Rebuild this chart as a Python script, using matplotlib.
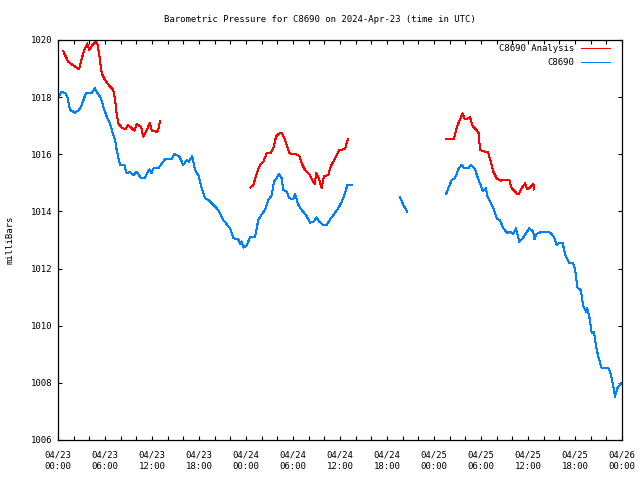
import matplotlib as mpl

mpl.use("Agg")

import matplotlib.dates as mdates
import matplotlib.pyplot as plt
import numpy as np
import pandas as pd

NAN = np.nan
START = pd.Timestamp("2024-04-23 00:00")

# hours since 2024-04-23 00:00 UTC; NaN marks a gap in the record
analysis_hours = [
    0.64, 1.31, 2.17, 2.68, 3.03, 3.45, 3.74, 4.0, 4.47, 4.81, 5.07, 5.27, 5.58, 6.0,
    6.64, 7.06, 7.28, 7.49, 7.70, 8.13, 8.64, 8.9, 9.32, 9.74, 10.05, 10.6, 10.89,
    11.32, 11.74, 11.96, 12.6, 12.8, 13.02,
    NAN,
    24.6, 24.93, 25.37, 25.79, 26.21, 26.64, 27.15, 27.57, 27.83, 28.12, 28.56, 28.98,
    29.53, 30.26, 30.81, 31.11, 31.53, 32.08, 32.59, 32.81, 32.94, 33.23, 33.66, 33.96,
    34.51, 34.81, 35.36, 35.91, 36.64, 36.98,
    NAN,
    49.53, 50.55, 50.81, 51.1, 51.66, 51.96, 52.28, 52.6, 52.94, 53.45, 53.71, 53.87,
    54.51, 54.93, 55.24, 55.57, 56.0, 56.51, 57.61, 57.92, 58.56, 58.76, 59.2, 59.62,
    59.91, 60.26, 60.68, 60.81,
]
analysis_mb = [
    1019.62, 1019.24, 1019.07, 1018.98, 1019.36, 1019.71, 1019.88, 1019.65, 1019.85,
    1019.94, 1019.82, 1019.47, 1018.83, 1018.6, 1018.37, 1018.25, 1017.9, 1017.43,
    1017.08, 1016.94, 1016.87, 1017.03, 1016.94, 1016.83, 1017.06, 1016.96, 1016.62,
    1016.85, 1017.1, 1016.83, 1016.79, 1016.85, 1017.16,
    NAN,
    1014.84, 1014.92, 1015.33, 1015.63, 1015.74, 1016.03, 1016.05, 1016.27, 1016.62,
    1016.71, 1016.76, 1016.5, 1016.03, 1016.01, 1015.94, 1015.68, 1015.45, 1015.31,
    1015.04, 1014.96, 1015.36, 1015.22, 1014.81, 1015.24, 1015.27, 1015.57, 1015.86,
    1016.15, 1016.18, 1016.52,
    NAN,
    1016.55, 1016.55, 1016.85, 1017.08, 1017.43, 1017.22, 1017.25, 1017.29, 1016.99,
    1016.85, 1016.73, 1016.15, 1016.09, 1016.06, 1015.74, 1015.39, 1015.16, 1015.08,
    1015.1, 1014.81, 1014.63, 1014.6, 1014.81, 1014.98, 1014.77, 1014.84, 1014.96,
    1014.77,
]

station_hours = [
    0.13, 0.47, 0.98, 1.21, 1.53, 2.17, 2.68, 3.03, 3.54, 4.30, 4.72, 5.07, 5.49, 5.78,
    6.22, 6.64, 6.93, 7.28, 7.49, 7.91, 8.46, 8.77, 9.19, 9.61, 10.05, 10.6, 11.02,
    11.66, 11.96, 12.17, 12.8, 13.66, 14.51, 14.85, 15.45, 16.0, 16.43, 16.72, 17.14,
    17.49, 17.91, 18.34, 18.77, 19.19, 19.83, 20.46, 21.1, 21.96, 22.38, 23.02, 23.23,
    23.45, 23.66, 24.09, 24.51, 25.15, 25.57, 26.0, 26.43, 26.85, 27.28, 27.57, 27.92,
    28.21, 28.56, 28.76, 29.19, 29.53, 30.04, 30.26, 30.68, 31.11, 31.66, 32.17, 32.59,
    33.03, 33.36, 33.87, 34.30, 34.72, 35.15, 35.78, 36.22, 36.64, 36.93, 37.49,
    NAN,
    43.66, 44.08, 44.59,
    NAN,
    49.53, 49.83, 50.26, 50.68, 51.1, 51.54, 51.83, 52.38, 52.69, 53.23, 53.53, 53.87,
    54.21, 54.64, 54.81, 55.15, 55.57, 56.0, 56.43, 56.85, 57.36, 57.7, 58.13, 58.47,
    58.89, 59.4, 60.17, 60.68, 60.81, 61.11, 61.75, 62.6, 63.03, 63.32, 63.66, 64.09,
    64.43, 64.72, 65.27, 65.7, 66.0, 66.29, 66.73, 67.06, 67.4, 67.57, 67.91, 68.13,
    68.43, 68.68, 68.98, 69.41, 70.26, 70.55, 70.89, 71.1, 71.4, 71.74, 71.91,
]
station_mb = [
    1018.02, 1018.19, 1018.13, 1018.0, 1017.55, 1017.46, 1017.55, 1017.72, 1018.13,
    1018.15, 1018.31, 1018.13, 1017.96, 1017.67, 1017.32, 1017.08, 1016.79, 1016.5,
    1016.15, 1015.63, 1015.63, 1015.33, 1015.39, 1015.27, 1015.39, 1015.16, 1015.16,
    1015.47, 1015.33, 1015.51, 1015.51, 1015.82, 1015.82, 1016.01, 1015.94, 1015.63,
    1015.8, 1015.74, 1015.94, 1015.45, 1015.27, 1014.81, 1014.46, 1014.4, 1014.23,
    1014.05, 1013.7, 1013.41, 1013.06, 1013.02, 1012.86, 1012.95, 1012.73, 1012.82,
    1013.09, 1013.12, 1013.7, 1013.9, 1014.05, 1014.4, 1014.57, 1015.04, 1015.16,
    1015.31, 1015.16, 1014.75, 1014.69, 1014.46, 1014.44, 1014.61, 1014.23, 1014.05,
    1013.87, 1013.61, 1013.64, 1013.79, 1013.64, 1013.52, 1013.52, 1013.72, 1013.87,
    1014.11, 1014.34, 1014.63, 1014.92, 1014.92,
    NAN,
    1014.49, 1014.23, 1013.99,
    NAN,
    1014.6, 1014.81, 1015.1, 1015.16, 1015.47, 1015.63, 1015.51, 1015.51, 1015.63,
    1015.48, 1015.22, 1014.98, 1014.72, 1014.81, 1014.52, 1014.34, 1014.11, 1013.76,
    1013.68, 1013.41, 1013.24, 1013.29, 1013.21, 1013.41, 1012.94, 1013.09, 1013.41,
    1013.29, 1013.02, 1013.21, 1013.29, 1013.29, 1013.21, 1013.09, 1012.82, 1012.91,
    1012.89, 1012.51, 1012.18, 1012.2, 1012.01, 1011.34, 1011.25, 1010.69, 1010.49,
    1010.61, 1010.2, 1009.74, 1009.79, 1009.27, 1008.92, 1008.51, 1008.51, 1008.33,
    1007.87, 1007.52, 1007.81, 1007.93, 1007.99,
]

TITLE = "Barometric Pressure for C8690 on 2024-Apr-23 (time in UTC)"
FONT = "DejaVu Sans Mono"
FS = 6.5

mpl.rcParams.update({"font.family": FONT, "font.size": FS})

T0 = mdates.date2num(START)


def to_days(hours):
    # matplotlib date numbers; NaN stays NaN so the gaps break the line
    return T0 + np.asarray(hours, dtype=float) / 24.0


fig = plt.figure(figsize=(6.4, 4.8), dpi=100)
ax = fig.add_axes([58 / 640, 40 / 480, 564 / 640, 400 / 480])

ax.plot(to_days(analysis_hours), analysis_mb, color="#ff0000", lw=0.72, label="C8690 Analysis", antialiased=False)
ax.plot(to_days(station_hours), station_mb, color="#0080ff", lw=0.72, label="C8690", antialiased=False)

ax.xaxis_date()
ax.set_xlim(T0, T0 + 3)
ax.set_ylim(1006, 1020)
ax.set_yticks(np.arange(1006, 1021, 2))
ax.xaxis.set_major_locator(mdates.HourLocator(byhour=range(0, 24, 6)))
ax.xaxis.set_minor_locator(mdates.HourLocator(interval=2))
ax.xaxis.set_major_formatter(mdates.DateFormatter("%m/%d\n%H:%M"))

ax.tick_params(which="both", direction="in", top=True, right=True, length=3.2, width=0.8, color="black")
ax.tick_params(axis="x", pad=7.5, labelsize=FS)
ax.tick_params(axis="y", pad=4, labelsize=FS)
for lab in ax.get_xticklabels():
    lab.set_linespacing(1.35)
for sp in ax.spines.values():
    sp.set_linewidth(0.9)

ax.legend(loc="upper right", bbox_to_anchor=(1 - 12 / 564, 1 - 4 / 400), frameon=False, markerfirst=False,
          handlelength=3.2, handletextpad=0.8, labelspacing=0.55, borderpad=0, borderaxespad=0, fontsize=FS)

fig.text(0.5, 1 - 19 / 480, TITLE, ha="center", va="center", fontsize=FS)
fig.text(10 / 640, 0.5, "milliBars", rotation=90, ha="center", va="center", fontsize=FS)

fig.savefig("out.png", dpi=100, facecolor="white")
